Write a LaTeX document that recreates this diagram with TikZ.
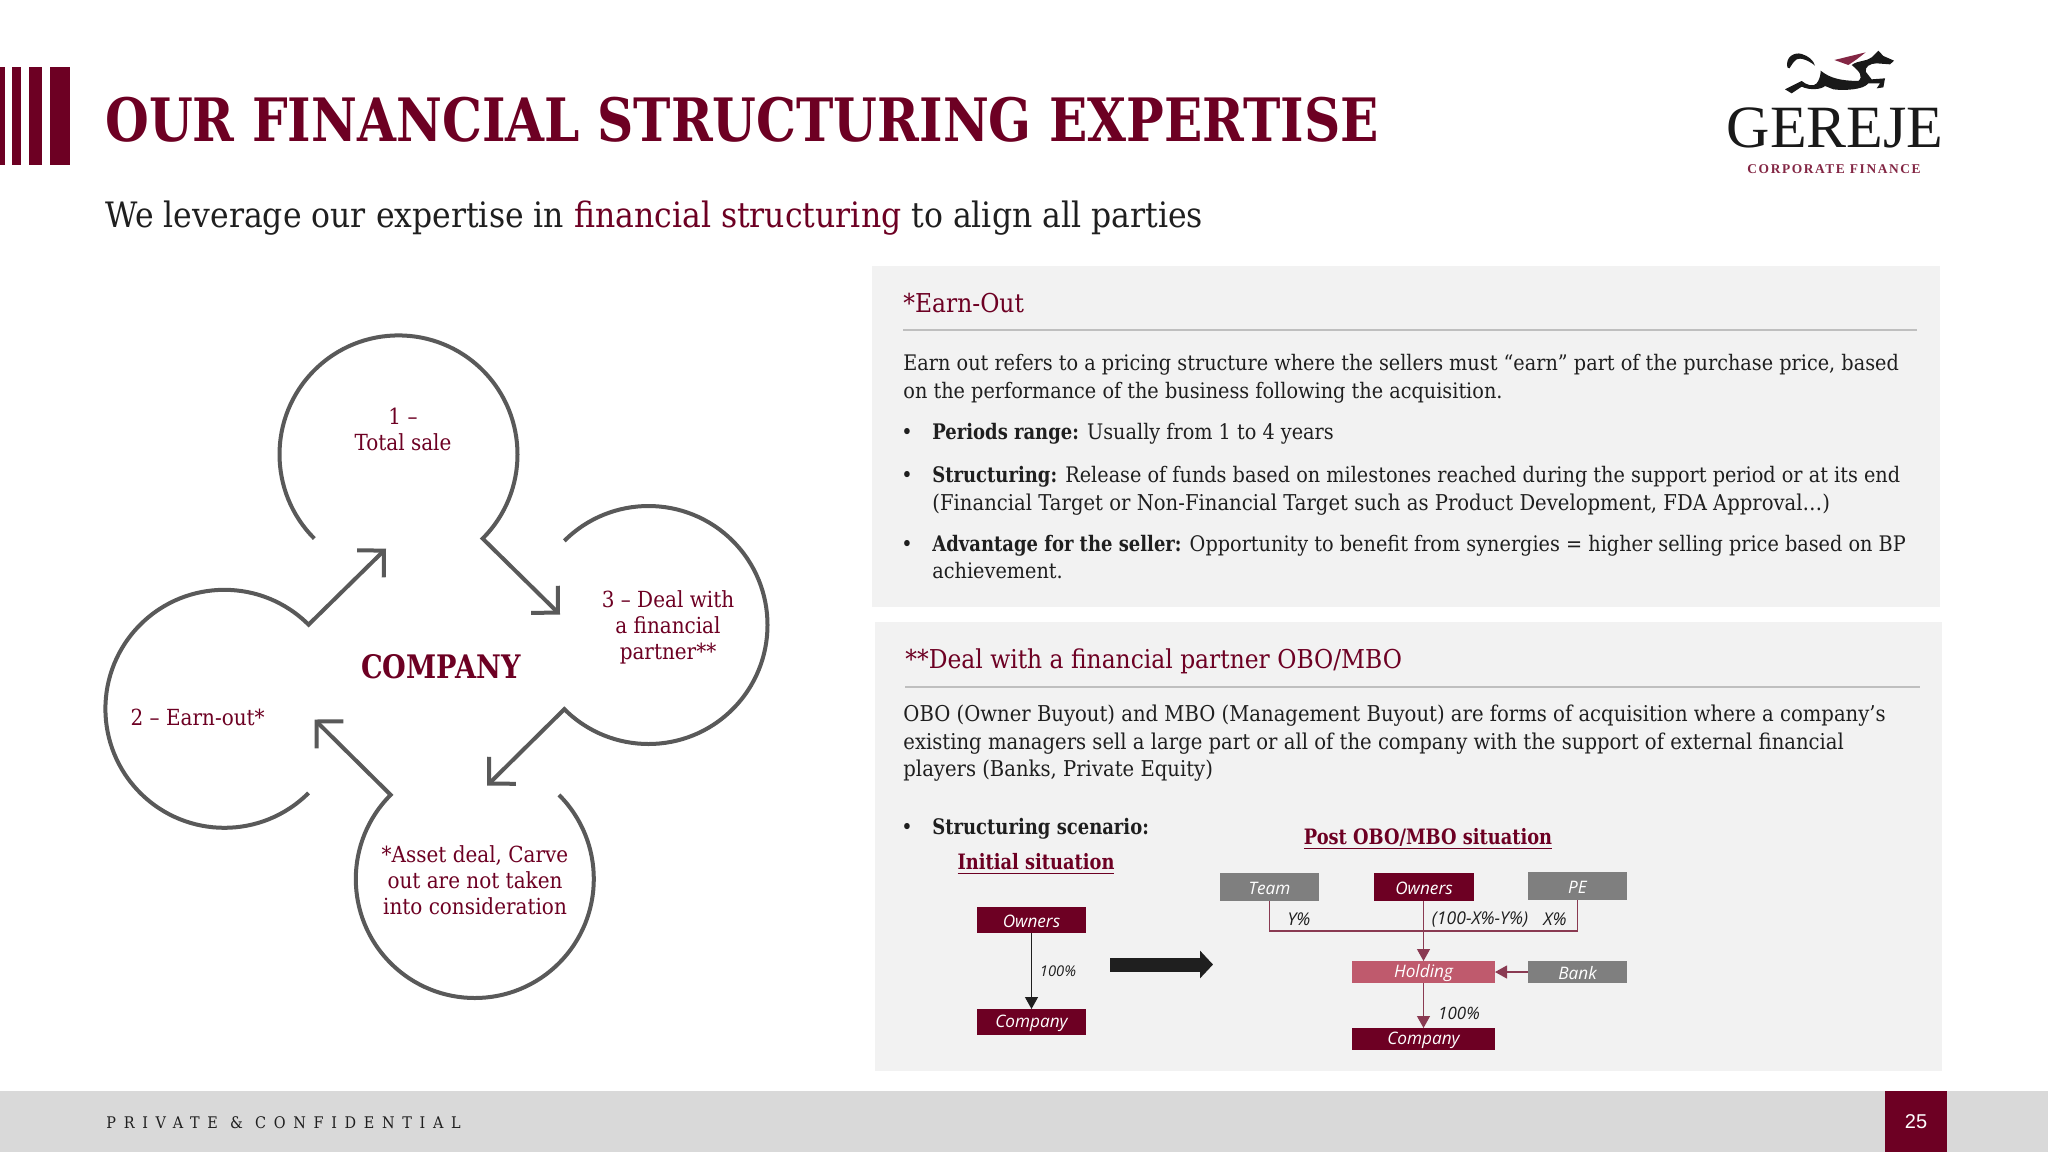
\documentclass[tikz,border=0pt]{standalone}
\usepackage{fontspec}
\setmainfont{DejaVu Serif}[FakeStretch=0.90,BoldFeatures={FakeStretch=0.84}]
\newfontfamily\labelfont{Open Sans}
\newfontfamily\logofont{Liberation Serif}
\newfontfamily\logosub{Liberation Serif}[LetterSpace=12]
\newfontfamily\footfont{DejaVu Serif}[LetterSpace=48,FakeStretch=0.90]
\newfontfamily\pagefont{Liberation Sans}
\usetikzlibrary{arrows.meta,calc}
\definecolor{wine}{HTML}{6D0023}
\definecolor{rose}{HTML}{BF5A6D}
\definecolor{link}{HTML}{8A3A52}
\definecolor{ring}{HTML}{595959}
\definecolor{panel}{HTML}{F2F2F2}
\definecolor{foot}{HTML}{D9D9D9}
\definecolor{slate}{HTML}{7F7F7F}
\definecolor{ink}{HTML}{1F1F1F}
\tikzset{
    body/.style={anchor=base west,inner sep=0pt,text=ink,font=\fontsize{10.7}{13}\selectfont},
    bodywide/.style={body,font=\fontsize{10.9}{13}\selectfont},
    head/.style={anchor=base west,inner sep=0pt,text=wine,font=\fontsize{13}{15}\selectfont},
    inring/.style={inner sep=0pt,align=center,text=wine,font=\fontsize{11.1}{13}\selectfont},
    ringline/.style={draw=ring,line width=2pt,line join=miter,-{Straight Barb[length=9.5pt,width=19pt]}},
    orgbox/.style={inner sep=0pt,text=white,font=\labelfont\itshape\fontsize{8.6}{10}\selectfont},
    share/.style={inner sep=0pt,text=ink,font=\labelfont\itshape\fontsize{8.8}{10}\selectfont},
    scenario/.style={inner sep=0pt,text=wine,font=\bfseries\fontsize{10.6}{13}\selectfont},
    thinline/.style={draw=link,line width=0.6pt},
    thinarrow/.style={thinline,-{Triangle[length=6pt,width=6.5pt]}},
}
\newcommand{\orgnode}[7]{\fill[#1] (#3,#4) rectangle (#5,#6);
    \node[orgbox] (#2) at ({(#3+#5)/2},{(#4+#6)/2+1.5}) {#7};}
\begin{document}
\begin{tikzpicture}[x=0.5pt,y=-0.5pt]
    \useasboundingbox (0,0) rectangle (2048,1152);
    \fill[white] (0,0) rectangle (2048,1152);

    \fill[wine] (0,67) rectangle (4.5,165);
    \fill[wine] (12,67) rectangle (21,165);
    \fill[wine] (29,67) rectangle (42,165);
    \fill[wine] (50,67) rectangle (70,165);
    \node[anchor=base west,inner sep=0pt,text=wine,font=\bfseries\fontsize{29.9}{32}\selectfont] (title) at (105,141) {OUR FINANCIAL STRUCTURING EXPERTISE};
    \node[anchor=base west,inner sep=0pt,text=ink,font=\fontsize{17.5}{20}\selectfont] (subtitle) at (105,227) {We leverage our expertise in \textcolor{wine}{financial structuring} to align all parties};

    \begin{scope}[shift={(1700,30)},x=0.16667pt,y=-0.16667pt]
        \fill[black!90] (262,112) .. controls (255,80) and (285,65) .. (305,72) .. controls (325,78) and (340,90) .. (345,107) .. controls (325,90) and (300,82) .. (290,88) .. controls (280,95) and (275,105) .. (268,115) -- cycle;
        \fill[black!90] (255,178) -- (305,153) .. controls (320,165) and (340,172) .. (350,160) .. controls (358,150) and (362,135) .. (362,122) .. controls (380,135) and (400,152) .. (475,153) .. controls (490,140) and (480,125) .. (455,105) .. controls (475,90) and (500,95) .. (515,82) -- (535,62) -- (550,78) -- (582,92) -- (570,103) -- (530,100) .. controls (510,100) and (495,110) .. (497,125) -- (515,148) -- (555,145) -- (550,172) -- (530,175) -- (540,160) -- (505,160) .. controls (490,180) and (430,182) .. (400,178) -- (375,168) .. controls (365,178) and (330,182) .. (305,170) -- (275,190) -- cycle;
        \fill[wine!85] (403,90) -- (497,67) -- (470,88) -- (445,105) -- cycle;
    \end{scope}
    \node[anchor=base,inner sep=0pt,text=black!90,font=\logofont\fontsize{30}{30}\selectfont] (logo) at (1835,147) {GEREJE};
    \node[anchor=base,inner sep=0pt,text=wine!85,font=\logosub\bfseries\fontsize{6.7}{8}\selectfont] (logotag) at (1834,173) {CORPORATE FINANCE};

    \coordinate (ringa) at (398.5,454.4);
    \coordinate (ringb) at (224.4,708.8);
    \coordinate (ringc) at (648.5,625);
    \coordinate (ringd) at (474.8,879);
    \coordinate (tipa) at (560,614.6);
    \coordinate (tipb) at (386,548.6);
    \coordinate (tipc) at (487,785.6);
    \coordinate (tipd) at (314.5,719.5);
    \draw[ringline] ([shift={(135:119)}]ringa) arc (135:405:119) -- (tipa);
    \draw[ringline] ([shift={(-135:119)}]ringc) arc (-135:135:119) -- (tipc);
    \draw[ringline] ([shift={(-45:119)}]ringd) arc (-45:225:119) -- (tipd);
    \draw[ringline] ([shift={(45:119)}]ringb) arc (45:315:119) -- (tipb);

    \node[inring] (sale) at (403,429) {1 –\\Total sale};
    \node[inring] (earn) at (197.7,717) {2 – Earn-out*};
    \node[inring] (deal) at (668,627) {3 – Deal with\\a financial\\partner**};
    \node[inring] (asset) at (475,880) {*Asset deal, Carve\\out are not taken\\into consideration};
    \node[inring,font=\bfseries\fontsize{16.2}{18}\selectfont] (company) at (441,667) {COMPANY};

    \fill[panel] (872,266) rectangle (1940,607);
    \fill[panel] (875,622) rectangle (1942,1071);
    \draw[black!25,line width=0.6pt] (903,330) -- (1917,330);
    \draw[black!25,line width=0.6pt] (905,687) -- (1920,687);

    \node[head] (earnhead) at (903,312) {*Earn-Out};
    \node[body] (earna) at (903,370) {Earn out refers to a pricing structure where the sellers must “earn” part of the purchase price, based};
    \node[body] (earnb) at (903,398) {on the performance of the business following the acquisition.};
    \node[body] (dota) at (901,439) {•};
    \node[body] (perioda) at (932,439) {\textbf{Periods range:} Usually from 1 to 4 years};
    \node[body] (dotb) at (901,482) {•};
    \node[body] (structa) at (932,482) {\textbf{Structuring:} Release of funds based on milestones reached during the support period or at its end};
    \node[bodywide] (structb) at (932,510) {(Financial Target or Non-Financial Target such as Product Development, FDA Approval…)};
    \node[body] (dotc) at (901,551) {•};
    \node[body] (adva) at (932,551) {\textbf{Advantage for the seller:} Opportunity to benefit from synergies = higher selling price based on BP};
    \node[body] (advb) at (932,578) {achievement.};

    \node[head] (dealhead) at (905,668) {**Deal with a financial partner OBO/MBO};
    \node[bodywide] (obo) at (903,721) {OBO (Owner Buyout) and MBO (Management Buyout) are forms of acquisition where a company’s};
    \node[bodywide] (obob) at (903,749) {existing managers sell a large part or all of the company with the support of external financial};
    \node[bodywide] (oboc) at (903,776) {players (Banks, Private Equity)};
    \node[body] (dotd) at (901,834) {•};
    \node[body] (scen) at (932,834) {\textbf{Structuring scenario:}};
    \node[scenario] (initial) at (1036,864) {\underline{Initial situation}};
    \node[scenario] (post) at (1428,839) {\underline{Post OBO/MBO situation}};

    \orgnode{wine}{ownersa}{977}{907}{1086}{933}{Owners}
    \orgnode{wine}{companya}{977}{1009}{1086}{1035}{Company}
    \draw[draw=ink,line width=0.6pt,-{Triangle[length=6pt,width=6.5pt]}] (ownersa.center |- 1031,933) -- (companya.center |- 1031,1009);
    \node[share,font=\labelfont\itshape\fontsize{7.4}{9}\selectfont] (fulla) at (1058,971) {100\%};

    \coordinate (movea) at (1110,964.5);
    \coordinate (moveb) at (1213,964.5);
    \draw[draw=ink,line width=7pt,-{Triangle[length=6.5pt,width=13.5pt]}] (movea) -- (moveb);

    \orgnode{slate}{team}{1220}{873}{1319}{901}{Team}
    \orgnode{wine}{ownersb}{1374}{873}{1474}{901}{Owners}
    \orgnode{slate}{pe}{1528}{872}{1627}{900}{PE}
    \orgnode{rose}{holding}{1352}{961}{1495}{983}{Holding}
    \orgnode{slate}{bank}{1528}{961}{1627}{983}{Bank}
    \orgnode{wine}{companyb}{1352}{1028}{1495}{1050}{Company}
    \coordinate (teamout) at (1269.5,901);
    \coordinate (peout) at (1577.5,900);
    \coordinate (ownersout) at (1423.5,901);
    \coordinate (holdingin) at (1423.5,961);
    \coordinate (holdingout) at (1423.5,983);
    \coordinate (companyin) at (1423.5,1028);
    \coordinate (bankout) at (1528,972);
    \coordinate (holdingside) at (1495,972);
    \draw[thinline] (teamout) -- (1269.5,931) -- (1577.5,931) -- (peout);
    \draw[thinarrow] (ownersout) -- (holdingin);
    \draw[thinarrow] (holdingout) -- (companyin);
    \draw[thinarrow] (bankout) -- (holdingside);
    \node[share] (sharey) at (1299,919) {Y\%};
    \node[share] (sharerest) at (1480,919) {(100-X\%-Y\%)};
    \node[share] (sharex) at (1555,919) {X\%};
    \node[share,font=\labelfont\itshape\fontsize{8.5}{10}\selectfont] (fullb) at (1459,1013) {100\%};

    \fill[foot] (0,1091) rectangle (2048,1152);
    \fill[wine] (1885,1091) rectangle (1947,1152);
    \node[anchor=base west,inner sep=0pt,text=ink,font=\footfont\fontsize{8}{10}\selectfont] (private) at (106,1128) {PRIVATE \& CONFIDENTIAL};
    \node[text=white,inner sep=0pt,font=\pagefont\fontsize{10}{12}\selectfont] (page) at (1916,1122) {25};
\end{tikzpicture}
\end{document}
